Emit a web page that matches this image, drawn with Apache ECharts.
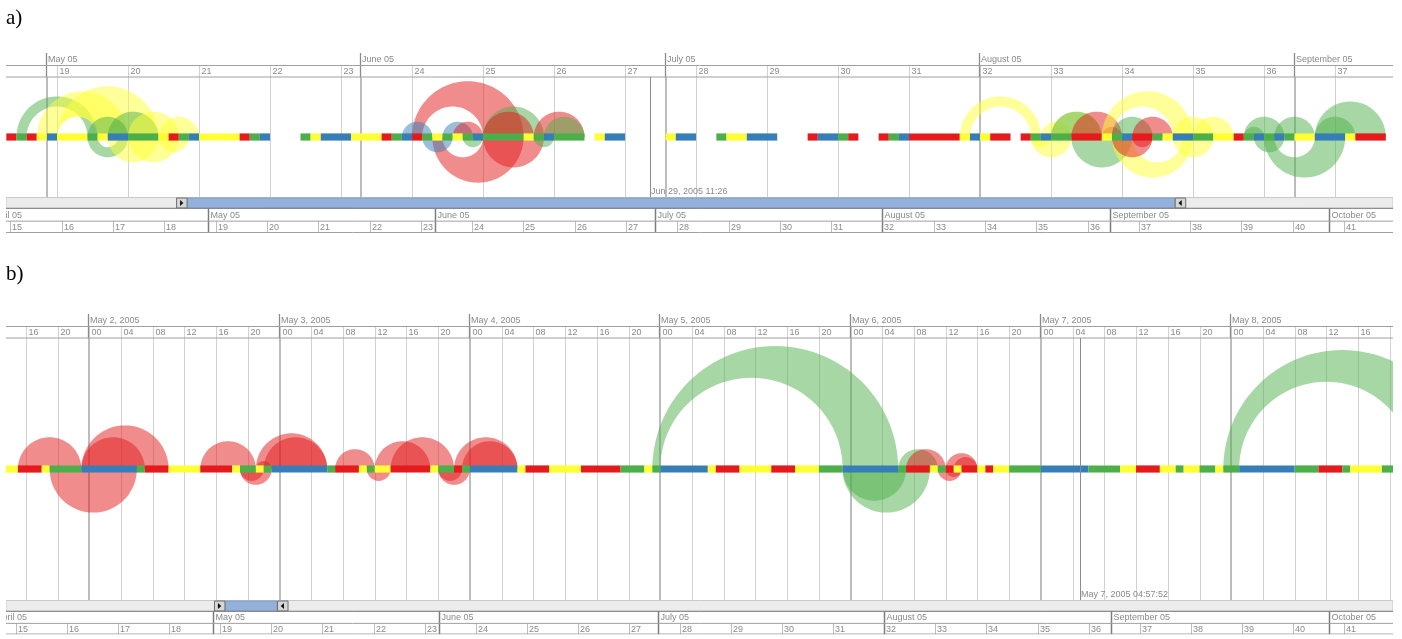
<!DOCTYPE html>
<html>
<head>
<meta charset="utf-8">
<script src="https://cdn.jsdelivr.net/npm/echarts@6.0.0/dist/echarts.min.js"></script>
<style>
  html, body { margin: 0; padding: 0; background: #fff; }
  #main { width: 1402px; height: 639px; }
</style>
</head>
<body>
<div id="main"></div>
<script>
// ---------------- data ----------------
// panel a) : one colour per day, day 0 = May 1 2005 ('-' = no data)
const aFirstDay = -4;
const aDayColors = [
  'R', 'G', 'R', 'Y', 'B',                // Apr 27 - May 1
  'Y', 'Y', 'Y', 'G', 'Y', 'B', 'B',      // week 19
  'G', 'G', 'G', 'Y', 'R', 'G', 'B',      // week 20
  'Y', 'Y', 'Y', 'Y', 'R', 'G', 'B',      // week 21
  '-', '-', '-', 'G', 'Y', 'B', 'B',      // week 22
  'B', 'Y', 'Y', 'Y', 'R', 'G', 'B',      // week 23
  'R', 'G', 'Y', 'G', 'Y', 'G', 'B',      // week 24
  'G', 'G', 'G', 'G', 'Y', 'G', 'B',      // week 25
  'G', 'G', 'G', '-', 'Y', 'B', 'B',      // week 26
  '-', '-', '-', '-', 'Y', 'B', 'B',      // week 27
  '-', '-', 'G', 'Y', 'Y', 'B', 'B',      // week 28
  'B', '-', '-', '-', 'R', 'B', 'B',      // week 29
  'G', 'R', '-', '-', 'R', 'G', 'B',      // week 30
  'R', 'R', 'R', 'R', 'R', 'Y', 'B',      // week 31
  'Y', 'R', 'R', '-', 'R', 'G', 'B',      // week 32
  'G', 'G', 'R', 'R', 'R', 'Y', 'G',      // week 33
  'B', 'R', 'R', 'G', 'Y', 'B', 'B',      // week 34
  'G', 'G', 'Y', 'Y', 'R', 'G', 'B',      // week 35
  'G', 'B', 'G', 'Y', 'Y', 'B', 'B',      // week 36
  'B', 'Y', 'R', 'R', 'R'                 // week 37
];
// half rings: [outerFrom, outerTo, innerFrom, innerTo, side (1 above / -1 below), colour]
// inner null => solid half disc.  panel a) in days
const aArcs = [
  [-3, 5, -2, 4, 1, 'G'],
  [-1, 8, 1, 5, 1, 'Y'],
  [1, 11, 1, 5, 1, 'Y'],
  [4, 8, null, null, 1, 'G'],
  [4, 8, 5, 7, -1, 'G'],
  [6, 11, null, null, 1, 'G'],
  [6, 11, null, null, -1, 'Y'],
  [8, 13, null, null, -1, 'Y'],
  [8, 13, null, null, 1, 'Y'],
  [11, 15, null, null, 1, 'Y'],
  [11, 14, null, null, -1, 'Y'],
  [36, 47, 37, 43, 1, 'R'],
  [38, 47, 39, 43, -1, 'R'],
  [35, 38, null, null, 1, 'B'],
  [37, 40, null, null, -1, 'B'],
  [39, 42, null, null, 1, 'B'],
  [40, 43, null, null, 1, 'R'],
  [41, 43, null, null, -1, 'G'],
  [43, 49, null, null, 1, 'G'],
  [43, 48, null, null, 1, 'R'],
  [43, 49, null, null, -1, 'R'],
  [48, 53, null, null, 1, 'R'],
  [49, 53, null, null, 1, 'G'],
  [48, 50, null, null, -1, 'G'],
  [90, 98, 91, 97, 1, 'Y'],
  [97, 99, null, null, -1, 'Y'],
  [97, 101, null, null, -1, 'Y'],
  [98, 101, null, null, 1, 'Y'],
  [99, 104, null, null, 1, 'Y'],
  [99, 104, null, null, 1, 'G'],
  [101, 107, null, null, -1, 'G'],
  [101, 106, null, null, 1, 'R'],
  [104, 106, null, null, 1, 'R'],
  [104, 113, 105, 111, 1, 'Y'],
  [105, 113, 107, 112, -1, 'Y'],
  [105, 109, null, null, 1, 'G'],
  [107, 111, null, null, 1, 'R'],
  [105, 109, null, null, -1, 'R'],
  [107, 109, null, null, -1, 'R'],
  [111, 115, null, null, 1, 'Y'],
  [111, 115, null, null, -1, 'Y'],
  [113, 117, null, null, 1, 'Y'],
  [118, 122, null, null, 1, 'G'],
  [118, 120, null, null, 1, 'G'],
  [119, 122, null, null, -1, 'G'],
  [121, 125, null, null, 1, 'G'],
  [120, 128, 121, 125, -1, 'G'],
  [125, 132, null, null, 1, 'G'],
  [125, 129, null, null, 1, 'G']
];
const aCursorDay = 59.476;
const aCursorLabel = 'Jun 29, 2005 11:26';
const aThumb = [-4.4, 133.4];

// panel b) : runs in hours, hour 0 = May 2 2005 00:00
const bRuns = [
  [-12, -9, 'Y'], [-9, -6, 'R'], [-6, -5, 'Y'], [-5, -1, 'G'], [-1, 6, 'B'], [6, 7, 'G'],
  [7, 10, 'R'], [10, 14, 'Y'], [14, 18, 'R'], [18, 19, 'Y'], [19, 21, 'G'], [21, 22, 'Y'],
  [22, 23, 'G'], [23, 30, 'B'], [30, 31, 'G'], [31, 34, 'R'], [34, 35, 'Y'], [35, 36, 'G'],
  [36, 38, 'Y'], [38, 43, 'R'], [43, 44, 'Y'], [44, 46, 'G'], [46, 47, 'R'], [47, 48, 'G'],
  [48, 54, 'B'], [54, 55, 'Y'], [55, 58, 'R'], [58, 62, 'Y'], [62, 67, 'R'], [67, 70, 'G'],
  [70, 71, 'Y'], [71, 72, 'G'], [72, 78, 'B'], [78, 79, 'Y'], [79, 82, 'R'], [82, 86, 'Y'],
  [86, 89, 'R'], [89, 92, 'Y'], [92, 95, 'G'], [95, 102, 'B'], [102, 103, 'G'], [103, 106, 'R'],
  [106, 107, 'Y'], [107, 108, 'G'], [108, 109, 'R'], [109, 110, 'Y'], [110, 112, 'R'], [112, 113, 'Y'],
  [113, 114, 'R'], [114, 116, 'Y'], [116, 120, 'G'], [120, 126, 'B'], [126, 130, 'G'], [130, 132, 'Y'],
  [132, 135, 'R'], [135, 137, 'Y'], [137, 138, 'G'], [138, 140, 'Y'], [140, 142, 'G'], [142, 143, 'Y'],
  [143, 145, 'G'], [145, 152, 'B'], [152, 155, 'G'], [155, 158, 'R'], [158, 159, 'G'], [159, 163, 'Y'],
  [163, 166, 'G']
];
const bArcs = [
  [-9, -1, null, null, 1, 'R'],
  [-5, 6, null, null, -1, 'R'],
  [-1, 10, null, null, 1, 'R'],
  [-1, 7, null, null, 1, 'R'],
  [14, 21, null, null, 1, 'R'],
  [19, 23, null, null, -1, 'R'],
  [19, 22, null, null, -1, 'R'],
  [21, 23, null, null, 1, 'R'],
  [21, 30, null, null, 1, 'R'],
  [22, 30, null, null, 1, 'R'],
  [31, 36, null, null, 1, 'R'],
  [35, 38, null, null, -1, 'R'],
  [36, 43, null, null, 1, 'R'],
  [38, 46, null, null, 1, 'R'],
  [44, 48, null, null, -1, 'R'],
  [44, 47, null, null, -1, 'R'],
  [46, 54, null, null, 1, 'R'],
  [47, 54, null, null, 1, 'R'],
  [71, 102, 72, 95, 1, 'G'],
  [95, 103, null, null, -1, 'G'],
  [95, 106, null, null, -1, 'G'],
  [102, 107, null, null, 1, 'G'],
  [103, 108, null, null, 1, 'R'],
  [107, 110, null, null, -1, 'R'],
  [108, 110, null, null, -1, 'R'],
  [108, 112, null, null, 1, 'R'],
  [109, 112, null, null, 1, 'R'],
  [143, 173, 145, 167, 1, 'G']
];
const bCursorHour = 124.964;
const bCursorLabel = 'May 7, 2005 04:57:52';
const bThumb = [0.13, 10.28];

// axis labels
const monthLabels = ['April 05', 'May 05', 'June 05', 'July 05', 'August 05', 'September 05', 'October 05'];
const monthIndex = [3, 4, 5, 6, 7, 8, 9];
const weekNumbers = [14, 15, 16, 17, 18, 19, 20, 21, 22, 23, 24, 25, 26, 27, 28, 29, 30, 31, 32, 33, 34, 35, 36, 37, 38, 39, 40, 41];
const bDayLabels = ['May 1, 2005', 'May 2, 2005', 'May 3, 2005', 'May 4, 2005', 'May 5, 2005', 'May 6, 2005', 'May 7, 2005', 'May 8, 2005', 'May 9, 2005'];
const bHourLabels = ['00', '04', '08', '12', '16', '20'];

// ---------------- helpers ----------------
const COL = { R: '228,26,28', G: '77,175,74', B: '55,126,184', Y: '255,255,51' };
const FONT = '9px "Liberation Sans", Arial, sans-serif';
const TXT = '#8a8a8a';
const HDR1 = 12.5, HDR2 = 24;

const dayMs = 864e5;
const may1 = Date.UTC(2005, 4, 1);
const monthDays = monthIndex.map(m => (Date.UTC(2005, m, 1) - may1) / dayMs);
// week 19 of 2005 starts Monday May 2
const weekDays = weekNumbers.map(w => (Date.UTC(2005, 4, 2) - may1) / dayMs + 7 * (w - 19));
const bDayHours = bDayLabels.map((s, i) => (i - 1) * 24);
const bHourTicks = [];
const bHourText = [];
for (let d = -1; d < 8; d++) {
  bHourLabels.forEach((lab, j) => { bHourTicks.push(d * 24 + j * 4); bHourText.push(lab); });
}

// one series drawing the header (horizontal rules + major/minor ticks)
function headerSeries(xi, majors, majorText, minors, minorText, z) {
  return {
    type: 'custom', xAxisIndex: xi, yAxisIndex: xi, clip: true, z: z, silent: true,
    data: [[0]],
    renderItem: function (params, api) {
      const cs = params.coordSys;
      const top = cs.y, bot = cs.y + cs.height;
      const L = cs.x, R = cs.x + cs.width;
      const ch = [];
      minors.forEach((v, i) => {
        const x = Math.round(api.coord([v, 0])[0]) + 0.5;
        ch.push({ type: 'line', shape: { x1: x, y1: top + HDR1, x2: x, y2: bot }, style: { stroke: '#d2d2d2', lineWidth: 1 } });
        ch.push({ type: 'text', x: x + 2, y: top + 18.3, style: { text: minorText[i], fill: TXT, font: FONT, align: 'left', verticalAlign: 'middle' } });
      });
      majors.forEach((v, i) => {
        const x = Math.round(api.coord([v, 0])[0]);
        ch.push({ type: 'line', shape: { x1: x, y1: top + HDR2, x2: x, y2: bot }, style: { stroke: '#bcbcbc', lineWidth: 2 } });
        ch.push({ type: 'line', shape: { x1: x - 0.5, y1: top, x2: x - 0.5, y2: top + HDR2 }, style: { stroke: '#8a8a8a', lineWidth: 1.3 } });
        ch.push({ type: 'text', x: x + 1, y: top + 6.8, style: { text: majorText[i], fill: TXT, font: FONT, align: 'left', verticalAlign: 'middle' } });
      });
      ch.push({ type: 'line', shape: { x1: L, y1: top + HDR1, x2: R, y2: top + HDR1 }, style: { stroke: '#a0a0a0', lineWidth: 1 } });
      ch.push({ type: 'line', shape: { x1: L, y1: top + HDR2, x2: R, y2: top + HDR2 }, style: { stroke: '#a0a0a0', lineWidth: 1 } });
      return { type: 'group', children: ch };
    }
  };
}

// overview strip with scroll bar
function overviewSeries(xi, thumb, z) {
  return {
    type: 'custom', xAxisIndex: xi, yAxisIndex: xi, clip: true, z: z, silent: true,
    data: [[0]],
    renderItem: function (params, api) {
      const cs = params.coordSys;
      const top = cs.y, bot = cs.y + cs.height;
      const L = cs.x, R = cs.x + cs.width;
      const tb = top + 11.3, mid = top + (cs.height + 11.3) / 2 + 0.5;
      const ch = [];
      ch.push({ type: 'rect', shape: { x: L, y: top + 0.5, width: R - L, height: 10.8 }, style: { fill: '#ececec', stroke: '#c9c9c9', lineWidth: 1 } });
      const t0 = api.coord([thumb[0], 0])[0], t1 = api.coord([thumb[1], 0])[0];
      ch.push({ type: 'rect', shape: { x: t0 + 11, y: top + 1, width: t1 - t0 - 22, height: 10 }, style: { fill: '#94b1dc', stroke: '#7f9cc8', lineWidth: 1 } });
      [t0, t1 - 11].forEach((bx, k) => {
        ch.push({ type: 'rect', shape: { x: bx + 0.5, y: top + 1, width: 10.5, height: 10 }, style: { fill: '#d6d6d6', stroke: '#6e6e6e', lineWidth: 1 } });
        const cx = bx + 5.5, cy = top + 6;
        const pts = k === 0 ? [[cx - 1.5, cy - 3], [cx + 1.8, cy], [cx - 1.5, cy + 3]] : [[cx + 1.5, cy - 3], [cx - 1.8, cy], [cx + 1.5, cy + 3]];
        ch.push({ type: 'polygon', shape: { points: pts }, style: { fill: '#111' } });
      });
      weekDays.forEach((v, i) => {
        const x = Math.round(api.coord([v, 0])[0]) + 0.5;
        ch.push({ type: 'line', shape: { x1: x, y1: mid, x2: x, y2: bot }, style: { stroke: '#bdbdbd', lineWidth: 1 } });
        ch.push({ type: 'text', x: x + 1.5, y: (mid + bot) / 2 + 0.5, style: { text: String(weekNumbers[i]), fill: TXT, font: FONT, align: 'left', verticalAlign: 'middle' } });
      });
      monthDays.forEach((v, i) => {
        const x = Math.round(api.coord([v, 0])[0]) + 0.5;
        ch.push({ type: 'line', shape: { x1: x, y1: tb, x2: x, y2: bot }, style: { stroke: '#7d7d7d', lineWidth: 1.5 } });
        ch.push({ type: 'text', x: x + 2, y: (tb + mid) / 2 + 0.5, style: { text: monthLabels[i], fill: TXT, font: FONT, align: 'left', verticalAlign: 'middle' } });
      });
      ch.push({ type: 'line', shape: { x1: L, y1: tb, x2: R, y2: tb }, style: { stroke: '#7d7d7d', lineWidth: 1 } });
      ch.push({ type: 'line', shape: { x1: L, y1: mid, x2: R, y2: mid }, style: { stroke: '#a0a0a0', lineWidth: 1 } });
      ch.push({ type: 'line', shape: { x1: L, y1: bot - 0.5, x2: R, y2: bot - 0.5 }, style: { stroke: '#a0a0a0', lineWidth: 1 } });
      return { type: 'group', children: ch };
    }
  };
}

// timeline bar cells [from, to, colour]
function barSeries(xi, cells, z) {
  return {
    type: 'custom', xAxisIndex: xi, yAxisIndex: xi, clip: true, z: z, silent: true,
    data: cells.map(c => [c[0], c[1]]),
    renderItem: function (params, api) {
      const c = cells[params.dataIndex];
      const p0 = api.coord([c[0], 0]), p1 = api.coord([c[1], 0]);
      return { type: 'rect', shape: { x: p0[0], y: p0[1] - 3.6, width: p1[0] - p0[0], height: 7.2 }, style: { fill: 'rgb(' + COL[c[2]] + ')' } };
    }
  };
}

// translucent half rings / half discs sitting on the bar
function arcSeries(xi, arcs, z) {
  return {
    type: 'custom', xAxisIndex: xi, yAxisIndex: xi, clip: true, z: z, silent: true,
    data: arcs.map(a => [a[0], a[1]]),
    renderItem: function (params, api) {
      const a = arcs[params.dataIndex];
      const yc = api.coord([0, 0])[1];
      const xa = api.coord([a[0], 0])[0], xb = api.coord([a[1], 0])[0];
      const mid = (a[0] + a[1]) / 2;
      const xc = api.coord([a[2] == null ? mid : a[2], 0])[0];
      const xd = api.coord([a[3] == null ? mid : a[3], 0])[0];
      const co = (xa + xb) / 2, ro = (xb - xa) / 2;
      const ci = (xc + xd) / 2, ri = (xd - xc) / 2;
      const s = a[4];
      const pts = [];
      const N = 60;
      for (let i = 0; i <= N; i++) {
        const t = Math.PI - Math.PI * i / N;
        pts.push([co + ro * Math.cos(t), yc - s * ro * Math.sin(t)]);
      }
      for (let i = 0; i <= N; i++) {
        const t = Math.PI * i / N;
        pts.push([ci + ri * Math.cos(t), yc - s * ri * Math.sin(t)]);
      }
      return { type: 'polygon', shape: { points: pts }, style: { fill: 'rgba(' + COL[a[5]] + ',0.5)' } };
    }
  };
}

function cursorSeries(xi, value, label, z) {
  return {
    type: 'custom', xAxisIndex: xi, yAxisIndex: xi, clip: true, z: z, silent: true,
    data: [[value]],
    renderItem: function (params, api) {
      const cs = params.coordSys;
      const x = Math.round(api.coord([api.value(0), 0])[0]) + 0.5;
      return { type: 'group', children: [
        { type: 'line', shape: { x1: x, y1: cs.y + HDR2, x2: x, y2: cs.y + cs.height }, style: { stroke: '#8c8c8c', lineWidth: 1 } },
        { type: 'text', x: x + 0.5, y: cs.y + cs.height - 5.5, style: { text: label, fill: TXT, font: FONT, align: 'left', verticalAlign: 'middle' } }
      ] };
    }
  };
}

// merge consecutive days of the same colour into one run
const aCells = [];
aDayColors.forEach((c, i) => {
  if (c === '-') return;
  const d = aFirstDay + i;
  const last = aCells[aCells.length - 1];
  if (last && last[2] === c && last[1] === d) last[1] = d + 1;
  else aCells.push([d, d + 1, c]);
});

const chart = echarts.init(document.getElementById('main'), null, { renderer: 'canvas' });

const option = {
  animation: false,
  backgroundColor: '#ffffff',
  title: [
    { text: 'a)', left: 6, top: 8, padding: 0, textStyle: { fontFamily: '"Liberation Serif", "Times New Roman", serif', fontSize: 21, fontWeight: 'normal', color: '#000' } },
    { text: 'b)', left: 6, top: 264, padding: 0, textStyle: { fontFamily: '"Liberation Serif", "Times New Roman", serif', fontSize: 21, fontWeight: 'normal', color: '#000' } }
  ],
  grid: [
    { left: 6, width: 1387, top: 53, height: 144 },
    { left: 6, width: 1387, top: 197, height: 36 },
    { left: 6, width: 1387, top: 314, height: 286 },
    { left: 6, width: 1387, top: 600, height: 34.5 }
  ],
  xAxis: [
    { type: 'value', gridIndex: 0, min: -4.032, max: 132.71, show: false },
    { type: 'value', gridIndex: 1, min: -27.614, max: 161.69, show: false },
    { type: 'value', gridIndex: 2, min: -10.504, max: 164.4, show: false },
    { type: 'value', gridIndex: 3, min: -28.37, max: 161.71, show: false }
  ],
  yAxis: [
    { type: 'value', gridIndex: 0, min: -60, max: 84, show: false },
    { type: 'value', gridIndex: 1, min: 0, max: 1, show: false },
    { type: 'value', gridIndex: 2, min: -131, max: 155, show: false },
    { type: 'value', gridIndex: 3, min: 0, max: 1, show: false }
  ],
  series: [
    headerSeries(0, monthDays, monthLabels, weekDays, weekNumbers.map(String), 1),
    arcSeries(0, aArcs, 2),
    barSeries(0, aCells, 3),
    cursorSeries(0, aCursorDay, aCursorLabel, 4),
    overviewSeries(1, aThumb, 1),
    headerSeries(2, bDayHours, bDayLabels, bHourTicks, bHourText, 1),
    arcSeries(2, bArcs, 2),
    barSeries(2, bRuns, 3),
    cursorSeries(2, bCursorHour, bCursorLabel, 4),
    overviewSeries(3, bThumb, 1)
  ]
};
chart.setOption(option);
window.addEventListener('resize', () => chart.resize());
</script>
</body>
</html>
